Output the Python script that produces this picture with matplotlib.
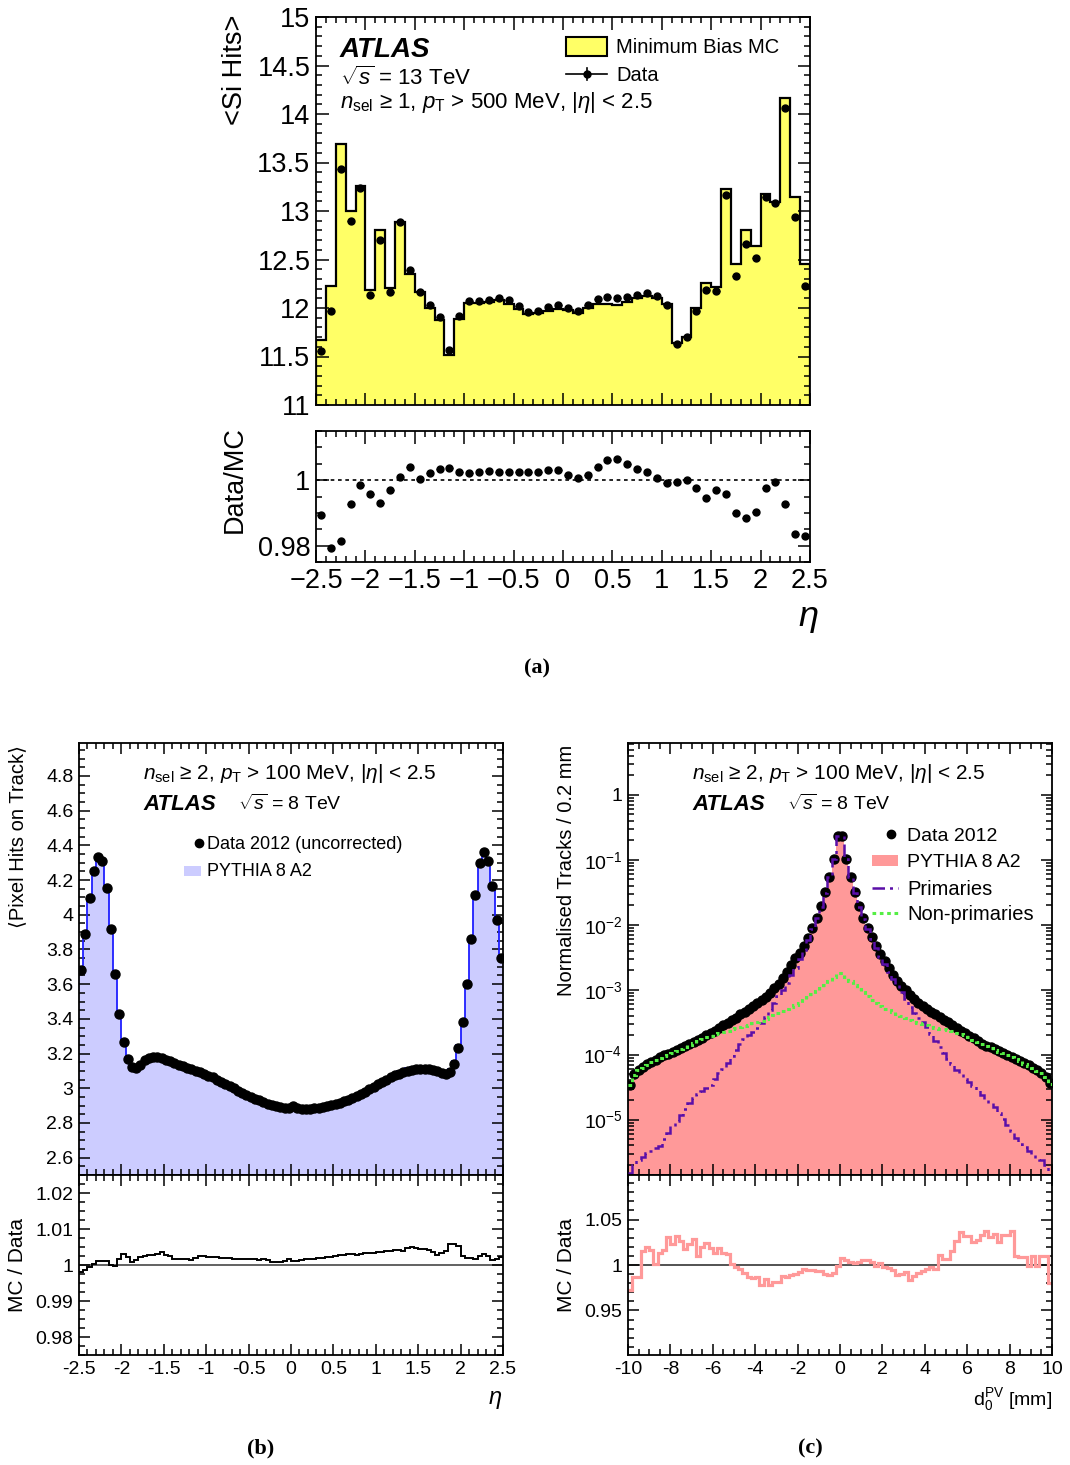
import numpy as np
import matplotlib.pyplot as plt
from matplotlib.ticker import MultipleLocator, FuncFormatter, LogLocator, NullFormatter
from matplotlib.patches import Rectangle
from matplotlib.lines import Line2D

plt.rcParams['font.family'] = ['Liberation Sans', 'DejaVu Sans']
plt.rcParams['mathtext.fontset'] = 'custom'
plt.rcParams['mathtext.rm'] = 'Liberation Sans'
plt.rcParams['mathtext.it'] = 'Liberation Sans:italic'
plt.rcParams['mathtext.bf'] = 'Liberation Sans:bold'
plt.rcParams['axes.linewidth'] = 1.3

# ---------------- data (a): <Si hits> vs eta, 13 TeV ----------------
edges_a = np.linspace(-2.5, 2.5, 51)
mc_a = [11.67, 12.23, 13.69, 13.00, 13.26, 12.19, 12.80, 12.21, 12.89, 12.35,
        12.16, 12.00, 11.88, 11.52, 11.89, 12.05, 12.05, 12.06, 12.08, 12.04,
        11.99, 11.94, 11.95, 11.97, 11.99, 11.98, 11.95, 12.00, 12.04, 12.04,
        12.03, 12.06, 12.10, 12.12, 12.10, 12.04, 11.64, 11.70, 12.00, 12.26,
        12.22, 13.23, 12.45, 12.80, 12.64, 13.18, 13.09, 14.17, 13.14, 12.45]
data_a = [11.56, 11.97, 13.43, 12.90, 13.24, 12.13, 12.70, 12.17, 12.89, 12.39,
          12.16, 12.03, 11.91, 11.57, 11.92, 12.07, 12.07, 12.08, 12.10, 12.08,
          12.02, 11.96, 11.97, 12.01, 12.03, 12.00, 11.97, 12.03, 12.09, 12.11,
          12.10, 12.11, 12.13, 12.15, 12.12, 12.03, 11.63, 11.70, 11.97, 12.19,
          12.18, 13.17, 12.33, 12.66, 12.52, 13.14, 13.08, 14.06, 12.94, 12.23]
ratio_a = [0.9895, 0.9792, 0.9813, 0.9928, 0.9984, 0.9957, 0.9930, 0.9971, 1.0010, 1.0041,
           1.0002, 1.0023, 1.0033, 1.0036, 1.0024, 1.0022, 1.0025, 1.0027, 1.0025, 1.0025,
           1.0026, 1.0025, 1.0025, 1.0031, 1.0031, 1.0017, 1.0005, 1.0017, 1.0041, 1.0062,
           1.0064, 1.0049, 1.0033, 1.0025, 1.0008, 0.9990, 0.9995, 1.0000, 0.9975, 0.9945,
           0.9969, 0.9957, 0.9899, 0.9884, 0.9903, 0.9975, 0.9995, 0.9928, 0.9836, 0.9828]

# ---------------- data (b): pixel hits vs eta, 8 TeV ----------------
edges_b = np.linspace(-2.5, 2.5, 101)
data_b = [3.680, 3.888, 4.094, 4.250, 4.334, 4.307, 4.157, 3.917, 3.657, 3.430,
          3.268, 3.170, 3.122, 3.114, 3.135, 3.160, 3.175, 3.182, 3.180, 3.172,
          3.163, 3.155, 3.145, 3.135, 3.126, 3.118, 3.110, 3.100, 3.092, 3.083,
          3.073, 3.062, 3.050, 3.038, 3.025, 3.012, 2.999, 2.987, 2.975, 2.963,
          2.951, 2.940, 2.930, 2.920, 2.911, 2.903, 2.897, 2.892, 2.888, 2.889,
          2.895, 2.884, 2.882, 2.881, 2.882, 2.884, 2.887, 2.891, 2.896, 2.902,
          2.909, 2.917, 2.925, 2.934, 2.944, 2.955, 2.967, 2.980, 2.994, 3.008,
          3.022, 3.036, 3.050, 3.063, 3.075, 3.085, 3.094, 3.101, 3.107, 3.111,
          3.113, 3.113, 3.111, 3.106, 3.098, 3.088, 3.082, 3.093, 3.141, 3.234,
          3.382, 3.600, 3.863, 4.115, 4.296, 4.360, 4.307, 4.167, 3.969, 3.753]
ratio_b = [0.9980, 0.9985, 0.9994, 1.0004, 1.0012, 1.0012, 1.0012, 1.0000, 0.9998, 1.0017,
           1.0030, 1.0021, 1.0009, 1.0015, 1.0021, 1.0026, 1.0029, 1.0029, 1.0031, 1.0035,
           1.0029, 1.0024, 1.0018, 1.0017, 1.0017, 1.0016, 1.0015, 1.0020, 1.0024, 1.0024,
           1.0023, 1.0023, 1.0021, 1.0020, 1.0019, 1.0019, 1.0017, 1.0016, 1.0017, 1.0016,
           1.0016, 1.0017, 1.0015, 1.0018, 1.0013, 1.0009, 1.0009, 1.0009, 1.0012, 1.0018,
           1.0012, 1.0012, 1.0013, 1.0016, 1.0017, 1.0016, 1.0019, 1.0019, 1.0022, 1.0023,
           1.0025, 1.0027, 1.0028, 1.0030, 1.0030, 1.0029, 1.0031, 1.0034, 1.0034, 1.0033,
           1.0035, 1.0036, 1.0038, 1.0040, 1.0041, 1.0043, 1.0039, 1.0046, 1.0049, 1.0046,
           1.0045, 1.0044, 1.0043, 1.0037, 1.0029, 1.0033, 1.0040, 1.0057, 1.0058, 1.0052,
           1.0024, 1.0020, 1.0019, 1.0017, 1.0025, 1.0030, 1.0026, 1.0015, 1.0016, 1.0021]

# ---------------- data (c): d0 distribution (log10 of values) ----------------
edges_c = np.linspace(-10, 10, 101)
log_data_c = [-4.47, -4.30, -4.23, -4.19, -4.15, -4.11, -4.08, -4.04, -4.01, -3.99,
              -3.96, -3.93, -3.90, -3.87, -3.84, -3.81, -3.77, -3.74, -3.70, -3.67,
              -3.63, -3.59, -3.55, -3.51, -3.47, -3.43, -3.38, -3.34, -3.29, -3.25,
              -3.20, -3.16, -3.11, -3.05, -2.98, -2.91, -2.82, -2.72, -2.62, -2.51,
              -2.43, -2.33, -2.20, -2.05, -1.89, -1.71, -1.50, -1.26, -0.98, -0.63,
              -0.63, -0.98, -1.26, -1.50, -1.71, -1.90, -2.05, -2.19, -2.33, -2.45,
              -2.56, -2.67, -2.78, -2.86, -2.94, -3.01, -3.08, -3.14, -3.20, -3.25,
              -3.30, -3.34, -3.38, -3.42, -3.46, -3.50, -3.54, -3.59, -3.63, -3.67,
              -3.71, -3.75, -3.79, -3.83, -3.86, -3.89, -3.92, -3.95, -3.97, -4.00,
              -4.03, -4.07, -4.10, -4.13, -4.16, -4.20, -4.24, -4.28, -4.34, -4.44]
log_prim_c = [-5.82, -5.70, -5.62, -5.57, -5.52, -5.48, -5.44, -5.40, -5.30, -5.20,
              -5.10, -5.02, -4.93, -4.84, -4.74, -4.67, -4.61, -4.56, -4.52, -4.47,
              -4.38, -4.29, -4.22, -4.13, -4.02, -3.93, -3.84, -3.76, -3.70, -3.65,
              -3.59, -3.51, -3.42, -3.31, -3.21, -3.10, -3.00, -2.89, -2.78, -2.66,
              -2.52, -2.39, -2.24, -2.07, -1.90, -1.72, -1.51, -1.26, -0.98, -0.63,
              -0.63, -0.98, -1.27, -1.51, -1.72, -1.91, -2.07, -2.22, -2.36, -2.49,
              -2.60, -2.72, -2.84, -2.93, -3.03, -3.15, -3.26, -3.36, -3.43, -3.50,
              -3.58, -3.68, -3.79, -3.88, -3.97, -4.06, -4.15, -4.23, -4.30, -4.37,
              -4.42, -4.48, -4.55, -4.62, -4.69, -4.74, -4.80, -4.90, -4.99, -5.08,
              -5.18, -5.28, -5.37, -5.43, -5.48, -5.54, -5.59, -5.63, -5.70, -5.80]
log_nonprim_c = [-4.47, -4.31, -4.24, -4.20, -4.16, -4.12, -4.09, -4.05, -4.02, -4.00,
                 -3.97, -3.94, -3.91, -3.88, -3.85, -3.82, -3.79, -3.76, -3.73, -3.71,
                 -3.69, -3.67, -3.65, -3.63, -3.61, -3.59, -3.58, -3.56, -3.54, -3.52,
                 -3.50, -3.48, -3.45, -3.42, -3.39, -3.36, -3.33, -3.30, -3.27, -3.24,
                 -3.20, -3.16, -3.12, -3.07, -3.02, -2.97, -2.92, -2.86, -2.80, -2.74,
                 -2.74, -2.80, -2.86, -2.92, -2.99, -3.04, -3.09, -3.16, -3.20, -3.25,
                 -3.29, -3.32, -3.35, -3.38, -3.40, -3.43, -3.46, -3.49, -3.51, -3.53,
                 -3.55, -3.57, -3.59, -3.60, -3.61, -3.62, -3.64, -3.66, -3.68, -3.70,
                 -3.73, -3.77, -3.80, -3.84, -3.87, -3.90, -3.93, -3.96, -3.98, -4.01,
                 -4.04, -4.07, -4.10, -4.14, -4.17, -4.21, -4.25, -4.29, -4.35, -4.45]
ratio_c = [0.9720, 0.9864, 0.9864, 1.0158, 1.0201, 1.0168, 1.0011, 1.0132, 1.0165, 1.0304,
           1.0231, 1.0315, 1.0267, 1.0176, 1.0231, 1.0286, 1.0095, 1.0194, 1.0242, 1.0183,
           1.0132, 1.0183, 1.0128, 1.0121, 1.0011, 0.9982, 0.9956, 0.9912, 0.9864, 0.9853,
           0.9864, 0.9780, 0.9846, 0.9784, 0.9810, 0.9810, 0.9883, 0.9864, 0.9890, 0.9901,
           0.9919, 0.9956, 0.9949, 0.9945, 0.9934, 0.9938, 0.9901, 0.9894, 0.9912, 0.9993,
           1.0073, 1.0059, 1.0029, 1.0018, 1.0029, 1.0055, 1.0059, 1.0037, 0.9993, 1.0022,
           0.9974, 0.9963, 0.9945, 0.9894, 0.9901, 0.9927, 0.9839, 0.9883, 0.9908, 0.9938,
           0.9956, 0.9982, 0.9956, 1.0110, 1.0066, 1.0066, 1.0158, 1.0267, 1.0359, 1.0322,
           1.0322, 1.0249, 1.0275, 1.0330, 1.0377, 1.0304, 1.0341, 1.0249, 1.0333, 1.0330,
           1.0370, 1.0095, 1.0084, 1.0084, 0.9993, 1.0095, 0.9993, 1.0095, 1.0095, 0.9802]

W, H = 1070, 1465
fig = plt.figure(figsize=(W / 100, H / 100), dpi=100)


def box(l, t, r, b):
    return [l / W, 1 - b / H, (r - l) / W, (b - t) / H]


def fx(x):
    return x / W


def fy(y):
    return 1 - y / H


def num_fmt(minus='-'):
    def f(v, pos):
        s = '%g' % round(v, 6)
        return s.replace('-', minus)
    return FuncFormatter(f)


def style(ax, size, xmaj, xmin, ymaj=None, ymin=None, minus='-', majlen=8, minlen=4):
    ax.tick_params(which='both', direction='in', top=True, right=True,
                   labelsize=size, width=1.1, pad=4)
    ax.tick_params(which='major', length=majlen)
    ax.tick_params(which='minor', length=minlen)
    ax.xaxis.set_major_locator(MultipleLocator(xmaj))
    ax.xaxis.set_minor_locator(MultipleLocator(xmin))
    ax.xaxis.set_major_formatter(num_fmt(minus))
    if ymaj is not None:
        ax.yaxis.set_major_locator(MultipleLocator(ymaj))
        ax.yaxis.set_minor_locator(MultipleLocator(ymin))
        ax.yaxis.set_major_formatter(num_fmt(minus))


def ftext(x, y, s, **kw):
    fig.text(fx(x), fy(y), s, **kw)


# ================= panel (a) =================
ca = 0.5 * (edges_a[1:] + edges_a[:-1])
axa = fig.add_axes(box(316, 17, 810, 405))
axa.stairs(mc_a, edges_a, baseline=11, fill=True, color='#ffff66', zorder=1)
axa.stairs(mc_a, edges_a, baseline=11, color='k', lw=1.6, zorder=2)
axa.errorbar(ca, data_a, xerr=0.035, fmt='o', color='k', ms=5, elinewidth=1, zorder=3)
axa.set_xlim(-2.5, 2.5)
axa.set_ylim(11, 15)
style(axa, 19.5, 0.5, 0.1, 0.5, 0.1, minus='\u2212', majlen=9, minlen=4.5)
axa.tick_params(labelbottom=False)

axar = fig.add_axes(box(316, 431, 810, 562))
axar.axhline(1, color='k', ls=(0, (2.2, 2.2)), lw=1.2, zorder=1)
axar.errorbar(ca, ratio_a, xerr=0.035, fmt='o', color='k', ms=5, elinewidth=1, zorder=3)
axar.set_xlim(-2.5, 2.5)
axar.set_ylim(0.975, 1.015)
style(axar, 19.5, 0.5, 0.1, 0.02, 0.005, minus='\u2212', majlen=9, minlen=4.5)

ftext(235, 15, '<Si Hits>', rotation=90, ha='center', va='top', fontsize=19.5)
ftext(235, 480, 'Data/MC', rotation=90, ha='center', va='center', fontsize=19.5)
ftext(808, 618, r'$\eta$', ha='center', va='center', fontsize=26)
ftext(340, 57, 'ATLAS', fontsize=20, fontweight='bold', fontstyle='italic')
ftext(340, 85, r'$\sqrt{s}$ = 13 TeV', fontsize=16)
ftext(340, 108, r'$n_{\mathrm{sel}}$ ≥ 1, $p_{\mathrm{T}}$ > 500 MeV, |$\eta$| < 2.5', fontsize=16)
fig.add_artist(Rectangle((fx(566), fy(56)), 41 / W, 19 / H, transform=fig.transFigure,
                         facecolor='#ffff66', edgecolor='k', lw=1.5))
ftext(616, 53, 'Minimum Bias MC', fontsize=14.5)
fig.add_artist(Line2D([fx(566), fx(607)], [fy(74), fy(74)], transform=fig.transFigure, color='k', lw=1.2))
fig.add_artist(Line2D([fx(587), fx(587)], [fy(68), fy(80)], transform=fig.transFigure, color='k', lw=1.2))
fig.add_artist(Line2D([fx(587)], [fy(74)], transform=fig.transFigure, marker='o', color='k', ms=5))
ftext(616, 81, 'Data', fontsize=14.5)
ftext(537, 668, '(a)', ha='center', va='center', fontsize=16, fontweight='bold', family='Liberation Serif')

# ================= panel (b) =================
cb = 0.5 * (edges_b[1:] + edges_b[:-1])
mc_b = np.array(data_b) * np.array(ratio_b)
axb = fig.add_axes(box(79, 743, 503, 1175))
axb.stairs(mc_b, edges_b, baseline=2.5, fill=True, color='#ccccff', zorder=1)
axb.stairs(mc_b, edges_b, baseline=None, color='#1f1fff', lw=1.3, zorder=2)
axb.plot(cb, data_b, 'o', color='k', ms=6.5, zorder=3)
axb.set_xlim(-2.5, 2.5)
axb.set_ylim(2.5, 4.99)
style(axb, 14, 0.5, 0.1, 0.2, 0.05)
axb.tick_params(labelbottom=False)

axbr = fig.add_axes(box(79, 1175, 503, 1355))
axbr.axhline(1, color='#555555', lw=1.3, zorder=1)
axbr.stairs(ratio_b, edges_b, baseline=None, color='k', lw=1.4, zorder=2)
axbr.set_xlim(-2.5, 2.5)
axbr.set_ylim(0.975, 1.025)
style(axbr, 14, 0.5, 0.1, 0.01, 0.0025)

ftext(18, 745, '\u27e8Pixel Hits on Track\u27e9', rotation=90, ha='center', va='top', fontsize=14.5)
ftext(18, 1265, 'MC / Data', rotation=90, ha='center', va='center', fontsize=15)
ftext(495, 1400, r'$\eta$', ha='center', va='center', fontsize=17)
ftext(143, 779, r'$n_{\mathrm{sel}}$ ≥ 2, $p_{\mathrm{T}}$ > 100 MeV, |$\eta$| < 2.5', fontsize=15)
ftext(143, 810, 'ATLAS', fontsize=16, fontweight='bold', fontstyle='italic')
ftext(238, 810, r'$\sqrt{s}$ = 8 TeV', fontsize=14)
fig.add_artist(Line2D([fx(199)], [fy(843)], transform=fig.transFigure, marker='o', color='k', ms=6))
ftext(207, 849, 'Data 2012 (uncorrected)', fontsize=13)
fig.add_artist(Rectangle((fx(184), fy(876)), 17 / W, 10 / H, transform=fig.transFigure,
                         facecolor='#ccccff', edgecolor='none'))
ftext(207, 876, 'PYTHIA 8 A2', fontsize=13)
ftext(261, 1448, '(b)', ha='center', va='center', fontsize=16, fontweight='bold', family='Liberation Serif')

# ================= panel (c) =================
cc = 0.5 * (edges_c[1:] + edges_c[:-1])
data_c = 10.0 ** np.array(log_data_c)
prim_c = 10.0 ** np.array(log_prim_c)
nonprim_c = 10.0 ** np.array(log_nonprim_c)
mc_c = prim_c + nonprim_c

axc = fig.add_axes(box(628, 743, 1052, 1175))
axc.set_yscale('log')
axc.stairs(mc_c, edges_c, baseline=1e-8, fill=True, color='#ff9999', zorder=1)
axc.plot(cc, data_c, 'o', color='k', ms=6.5, zorder=3)
axc.stairs(prim_c, edges_c, baseline=None, color='#5a0fa8', lw=1.8,
           ls=(0, (5, 2, 1.2, 2)), zorder=4)
axc.stairs(nonprim_c, edges_c, baseline=None, color='#55ee44', lw=2.2,
           ls=(0, (1.2, 1.2)), zorder=4)
axc.set_xlim(-10, 10)
axc.set_ylim(1.4e-6, 6.3)
style(axc, 14, 2, 0.5)
axc.yaxis.set_major_locator(LogLocator(base=10, numticks=20))
axc.yaxis.set_minor_locator(LogLocator(base=10, subs=np.arange(2, 10), numticks=40))
axc.yaxis.set_minor_formatter(NullFormatter())
axc.yaxis.set_major_formatter(FuncFormatter(
    lambda v, p: '1' if abs(v - 1) < 1e-9 else r'$10^{%d}$' % round(np.log10(v))))
axc.tick_params(labelbottom=False)

axcr = fig.add_axes(box(628, 1175, 1052, 1355))
axcr.axhline(1, color='#444444', lw=1.3, zorder=1)
axcr.stairs(ratio_c, edges_c, baseline=None, color='#ff9999', lw=2.3, zorder=2)
axcr.set_xlim(-10, 10)
axcr.set_ylim(0.901, 1.099)
style(axcr, 14, 2, 0.5, 0.05, 0.01)

ftext(566, 745, 'Normalised Tracks / 0.2 mm', rotation=90, ha='center', va='top', fontsize=14.5)
ftext(566, 1265, 'MC / Data', rotation=90, ha='center', va='center', fontsize=15)
ftext(1052, 1400, r'$\mathrm{d}_{0}^{\mathrm{PV}}$ [mm]', ha='right', va='center', fontsize=14)
ftext(692, 779, r'$n_{\mathrm{sel}}$ ≥ 2, $p_{\mathrm{T}}$ > 100 MeV, |$\eta$| < 2.5', fontsize=15)
ftext(692, 810, 'ATLAS', fontsize=16, fontweight='bold', fontstyle='italic')
ftext(787, 810, r'$\sqrt{s}$ = 8 TeV', fontsize=14)
fig.add_artist(Line2D([fx(891)], [fy(834)], transform=fig.transFigure, marker='o', color='k', ms=6))
ftext(907, 841, 'Data 2012', fontsize=14)
fig.add_artist(Rectangle((fx(872), fy(866)), 26 / W, 11 / H, transform=fig.transFigure,
                         facecolor='#ff9999', edgecolor='none'))
ftext(907, 867, 'PYTHIA 8 A2', fontsize=14)
fig.add_artist(Line2D([fx(872), fx(898)], [fy(888), fy(888)], transform=fig.transFigure,
                      color='#5a0fa8', lw=1.8, ls=(0, (5, 2, 1.2, 2))))
ftext(907, 895, 'Primaries', fontsize=14.5)
fig.add_artist(Line2D([fx(872), fx(898)], [fy(913), fy(913)], transform=fig.transFigure,
                      color='#55ee44', lw=2.2, ls=(0, (1.2, 1.2))))
ftext(907, 920, 'Non-primaries', fontsize=14.5)
ftext(810, 1448, '(c)', ha='center', va='center', fontsize=16, fontweight='bold', family='Liberation Serif')

fig.savefig('out.png', dpi=100)
